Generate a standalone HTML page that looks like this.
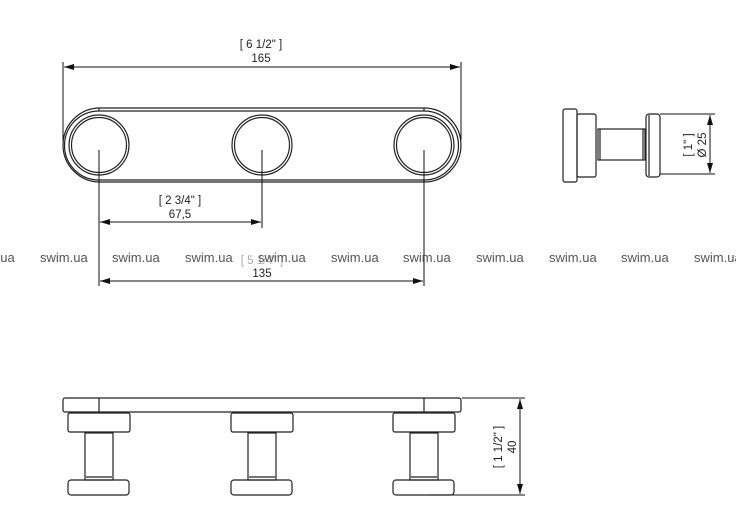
<!DOCTYPE html>
<html><head><style>
html,body{margin:0;padding:0;background:#fff;}
svg{display:block;font-family:"Liberation Sans",sans-serif;}
</style></head><body>
<svg width="736" height="517" viewBox="0 0 736 517" xmlns="http://www.w3.org/2000/svg">
<defs>
<marker id="a" viewBox="0 0 10 6" refX="10" refY="3" markerWidth="10" markerHeight="6" orient="auto-start-reverse" markerUnits="userSpaceOnUse"><path d="M0,0L10,3L0,6z" fill="#111"/></marker>
</defs>
<g fill="none" stroke="#222" stroke-width="1.2">
<!-- top view -->
<rect x="63" y="108" width="398" height="74" rx="37"/>
<path d="M99,111 H424"/>
<path d="M99,180 H424" />
<path d="M99,111 A34,34 0 0 0 99,180" />
<path d="M424,111 A34,34 0 0 1 424,180" />
<path d="M99,108 V111 M424,108 V111 M99,180 V182 M424,180 V182"/>
<circle cx="99" cy="145" r="30"/><circle cx="99" cy="145" r="27.5"/>
<circle cx="262" cy="145" r="30"/><circle cx="262" cy="145" r="27.5"/>
<circle cx="424" cy="145" r="30"/><circle cx="424" cy="145" r="27.5"/>
</g>
<g stroke="#111" stroke-width="1" fill="none">
<path d="M63,62 V140 M461,62 V140"/>
<path d="M64,67 H460" marker-start="url(#a)" marker-end="url(#a)"/>
<path d="M99,150 V286 M262,150 V228 M424,150 V286"/>
<path d="M100,222 H261" marker-start="url(#a)" marker-end="url(#a)"/>
<path d="M100,281 H423" marker-start="url(#a)" marker-end="url(#a)"/>
</g>
<g font-size="11.5" fill="#222" text-anchor="middle">
<text x="261" y="48">[ 6 1/2" ]</text>
<text x="261" y="62">165</text>
<text x="180" y="204">[ 2 3/4" ]</text>
<text x="180" y="218">67,5</text>
<text x="262" y="264" fill="#aaa">[ 5 1/4" ]</text>
<text x="262" y="277">135</text>
</g>
<g font-size="13" fill="#555">
<text x="-33" y="262">swim.ua</text><text x="40" y="262">swim.ua</text><text x="112" y="262">swim.ua</text><text x="185" y="262">swim.ua</text><text x="258" y="262">swim.ua</text><text x="331" y="262">swim.ua</text><text x="403" y="262">swim.ua</text><text x="476" y="262">swim.ua</text><text x="549" y="262">swim.ua</text><text x="621" y="262">swim.ua</text><text x="694" y="262">swim.ua</text>
</g>
<!-- side view -->
<g fill="none" stroke="#222" stroke-width="1.2">
<rect x="563" y="109" width="14" height="73" rx="2"/>
<rect x="577" y="114" width="19" height="63" rx="2"/>
<rect x="598" y="129" width="47" height="31"/>
<path d="M600,129 V160 M643,129 V160"/>
<rect x="646" y="114" width="14" height="63" rx="3"/>
<path d="M649,115 V176"/>
</g>
<g stroke="#111" stroke-width="1" fill="none">
<path d="M660,114 H715 M660,174 H715"/>
<path d="M710,115 V173" marker-start="url(#a)" marker-end="url(#a)"/>
</g>
<g font-size="11.5" fill="#222" text-anchor="middle">
<text transform="translate(692,145) rotate(-90)">[ 1" ]</text>
<text transform="translate(706,145) rotate(-90)">Ø 25</text>
</g>
<!-- bottom view -->
<g fill="none" stroke="#222" stroke-width="1.2">
<rect x="63" y="398" width="398" height="14" rx="2"/>
<path d="M99,398 V412 M424,398 V412"/>
<g id="h">
<rect x="68" y="413" width="62" height="19" rx="2"/>
<rect x="85" y="433" width="28" height="47"/>
<path d="M86,477 H112"/>
<rect x="68" y="480" width="61" height="15" rx="3"/>
</g>
<use href="#h" x="163"/>
<use href="#h" x="325"/>
</g>
<g stroke="#111" stroke-width="1" fill="none">
<path d="M462,398 H525 M430,495 H525"/>
<path d="M520,399 V494" marker-start="url(#a)" marker-end="url(#a)"/>
</g>
<g font-size="11.5" fill="#222" text-anchor="middle">
<text transform="translate(502,447) rotate(-90)">[ 1 1/2" ]</text>
<text transform="translate(516,447) rotate(-90)">40</text>
</g>
</svg>
</body></html>
